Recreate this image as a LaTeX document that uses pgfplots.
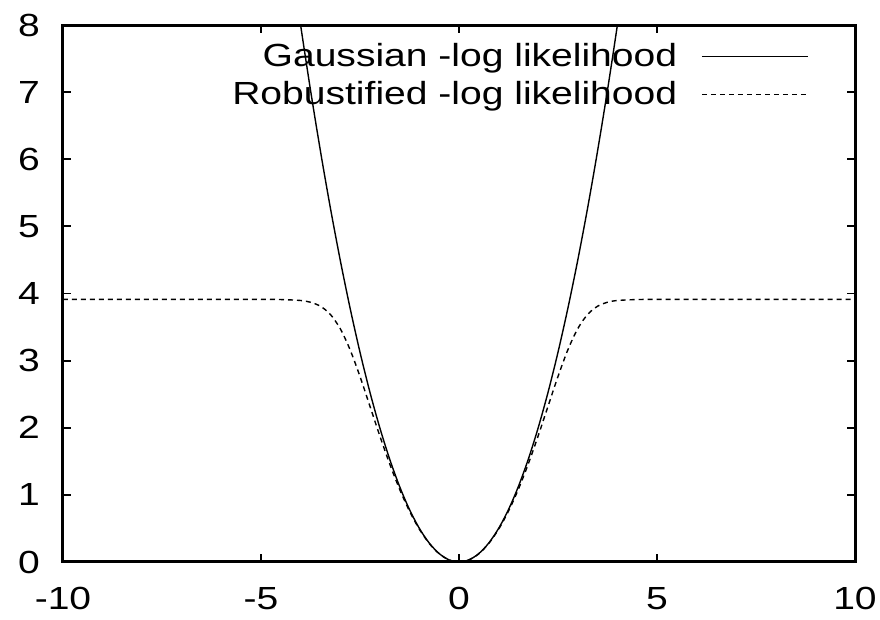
\documentclass[border=0pt]{standalone}
\usepackage{fontspec}
\setmainfont{Liberation Sans}[FakeStretch=1.22]
\usepackage{pgfplots}
\pgfplotsset{compat=1.18}
\begin{document}
\begin{tikzpicture}
\begin{axis}[
  scale only axis, width=396pt, height=268.5pt,
  xmin=-10, xmax=10, ymin=0, ymax=8,
  xtick={-10,-5,0,5,10}, xticklabels={-10,-5,0,5,10},
  ytick={0,1,2,3,4,5,6,7,8}, yticklabels={0,1,2,3,4,5,6,7,8},
  tick align=inside, major tick length=4pt,
  axis line style={line width=1.5pt},
  every tick/.style={black, line width=0.9pt},
  font=\fontsize{16}{19}\selectfont,
  xticklabel style={yshift=-9pt},
  yticklabel style={xshift=-8pt},
  legend style={draw=none, fill=none, at={(rel axis cs:1,1)}, anchor=north east,
    xshift=-20pt, yshift=-5pt, legend cell align=right, row sep=2pt, column sep=10pt,
    font=\fontsize{16}{19}\selectfont},
  legend plot pos=right,
  legend image code/.code={\draw[#1] (0pt,0pt) -- (53pt,0pt);},
]
\coordinate (bl) at (rel axis cs:0,0);
\coordinate (tr) at (rel axis cs:1,1);
\addplot[black, line width=0.7pt, smooth] coordinates {
  (-4.25,9.03125) (-4,8) (-3.75,7.03125) (-3.5,6.125) (-3.25,5.28125) (-3,4.5)
  (-2.75,3.78125) (-2.5,3.125) (-2.25,2.53125) (-2,2) (-1.75,1.53125)
  (-1.5,1.125) (-1.25,0.78125) (-1,0.5) (-0.75,0.28125) (-0.5,0.125)
  (-0.25,0.03125) (0,0) (0.25,0.03125) (0.5,0.125) (0.75,0.28125) (1,0.5)
  (1.25,0.78125) (1.5,1.125) (1.75,1.53125) (2,2) (2.25,2.53125)
  (2.5,3.125) (2.75,3.78125) (3,4.5) (3.25,5.28125) (3.5,6.125)
  (3.75,7.03125) (4,8) (4.25,9.03125)
};
\addlegendentry{Gaussian -log likelihood}
\addplot[black, line width=0.7pt, dash pattern=on 2.5pt off 2pt, smooth] coordinates {
  (-10,3.912) (-8,3.912) (-6,3.912) (-5,3.9118) (-4.5,3.910) (-4,3.8957)
  (-3.75,3.8696) (-3.5,3.8102) (-3.25,3.6896) (-3,3.4774) (-2.75,3.1620)
  (-2.5,2.7637) (-2.25,2.3231) (-2,1.8797) (-1.75,1.4613) (-1.5,1.0842)
  (-1.25,0.7579) (-1,0.4871) (-0.75,0.2748) (-0.5,0.1223) (-0.25,0.0306)
  (0,0) (0.25,0.0306) (0.5,0.1223) (0.75,0.2748) (1,0.4871) (1.25,0.7579)
  (1.5,1.0842) (1.75,1.4613) (2,1.8797) (2.25,2.3231) (2.5,2.7637)
  (2.75,3.1620) (3,3.4774) (3.25,3.6896) (3.5,3.8102) (3.75,3.8696)
  (4,3.8957) (4.5,3.910) (5,3.9118) (6,3.912) (8,3.912) (10,3.912)
};
\addlegendentry{Robustified -log likelihood}
\end{axis}
\pgfresetboundingbox
\useasboundingbox ([xshift=-31.5pt,yshift=-29pt]bl) rectangle ([xshift=12.5pt,yshift=12.5pt]tr);
\end{tikzpicture}
\end{document}
